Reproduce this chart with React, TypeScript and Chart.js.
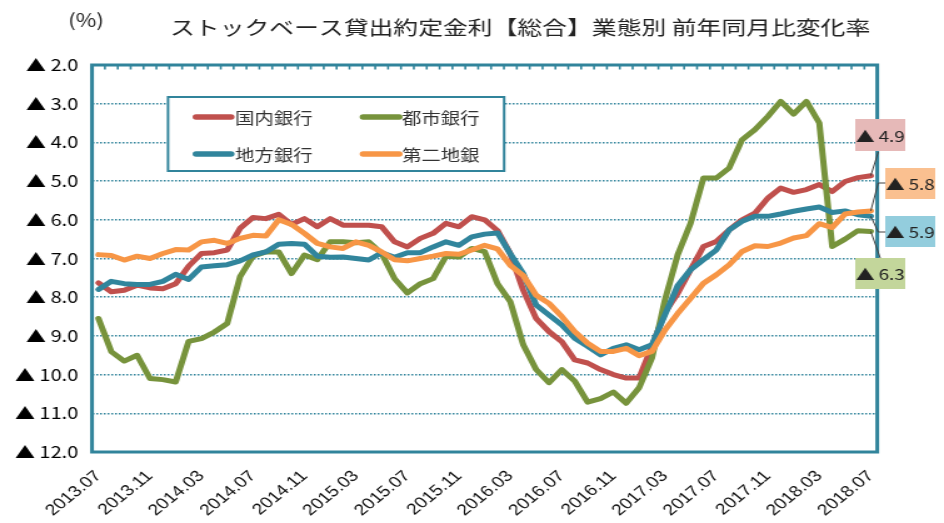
import React, { useEffect, useRef } from 'react';
import { Chart, registerables } from 'chart.js';

Chart.register(...registerables);

// ---------- data ----------
const months = [
  '2013.07', '2013.08', '2013.09', '2013.10', '2013.11', '2013.12',
  '2014.01', '2014.02', '2014.03', '2014.04', '2014.05', '2014.06', '2014.07', '2014.08', '2014.09', '2014.10', '2014.11', '2014.12',
  '2015.01', '2015.02', '2015.03', '2015.04', '2015.05', '2015.06', '2015.07', '2015.08', '2015.09', '2015.10', '2015.11', '2015.12',
  '2016.01', '2016.02', '2016.03', '2016.04', '2016.05', '2016.06', '2016.07', '2016.08', '2016.09', '2016.10', '2016.11', '2016.12',
  '2017.01', '2017.02', '2017.03', '2017.04', '2017.05', '2017.06', '2017.07', '2017.08', '2017.09', '2017.10', '2017.11', '2017.12',
  '2018.01', '2018.02', '2018.03', '2018.04', '2018.05', '2018.06', '2018.07',
];

const tickLabels = [
  '2013.07', '2013.11', '2014.03', '2014.07', '2014.11', '2015.03', '2015.07', '2015.11',
  '2016.03', '2016.07', '2016.11', '2017.03', '2017.07', '2017.11', '2018.03', '2018.07',
];

const seriesNames = ['国内銀行', '都市銀行', '地方銀行', '第二地銀'];

// 国内銀行
const kokunai = [
  -7.63, -7.86, -7.82, -7.69, -7.76, -7.78, -7.65, -7.2, -6.87, -6.85, -6.78, -6.22, -5.94, -5.97, -5.86, -6.12,
  -5.97, -6.18, -5.97, -6.14, -6.14, -6.14, -6.18, -6.57, -6.7, -6.48, -6.35, -6.09, -6.18, -5.92, -6.0,
  -6.28, -6.88, -7.82, -8.55, -8.89, -9.15, -9.62, -9.7, -9.87, -10.0, -10.09, -10.09, -9.27, -8.4, -7.9,
  -7.29, -6.69, -6.56, -6.26, -6.0, -5.83, -5.44, -5.18, -5.29, -5.22, -5.09, -5.27, -5.01, -4.91, -4.86,
];

// 都市銀行
const toshi = [
  -8.55, -9.41, -9.65, -9.5, -10.1, -10.13, -10.19, -9.14, -9.07, -8.9, -8.68, -7.47, -6.94, -6.83, -6.83, -7.39,
  -6.91, -7.03, -6.57, -6.57, -6.59, -6.57, -6.87, -7.52, -7.89, -7.65, -7.52, -6.94, -6.96, -6.74, -6.82,
  -7.65, -8.12, -9.23, -9.87, -10.21, -9.87, -10.17, -10.71, -10.62, -10.45, -10.74, -10.34, -9.57, -8.08, -6.9,
  -6.09, -4.92, -4.92, -4.66, -3.93, -3.67, -3.33, -2.94, -3.27, -2.94, -3.5, -6.69, -6.5, -6.28, -6.3,
];

// 地方銀行
const chiho = [
  -7.8, -7.59, -7.65, -7.67, -7.67, -7.59, -7.41, -7.54, -7.22, -7.19, -7.16, -7.06, -6.91, -6.83, -6.63, -6.61,
  -6.63, -6.94, -6.97, -6.96, -7.0, -7.04, -6.85, -6.97, -6.85, -6.85, -6.7, -6.57, -6.66, -6.44, -6.37,
  -6.34, -6.88, -7.39, -8.2, -8.46, -8.72, -9.06, -9.27, -9.49, -9.32, -9.23, -9.36, -9.23, -8.46, -7.7,
  -7.29, -7.03, -6.78, -6.26, -6.04, -5.91, -5.91, -5.85, -5.78, -5.72, -5.67, -5.81, -5.77, -5.87, -5.91,
];

// 第二地銀
const daini = [
  -6.9, -6.92, -7.04, -6.94, -7.0, -6.87, -6.77, -6.78, -6.57, -6.53, -6.61, -6.48, -6.4, -6.42, -6.0, -6.12,
  -6.35, -6.61, -6.7, -6.74, -6.57, -6.66, -6.83, -7.03, -7.06, -7.0, -6.94, -6.87, -6.89, -6.78, -6.66,
  -6.75, -7.18, -7.44, -7.95, -8.16, -8.5, -8.89, -9.19, -9.4, -9.4, -9.32, -9.51, -9.4, -8.85, -8.42,
  -8.03, -7.64, -7.42, -7.16, -6.82, -6.67, -6.69, -6.6, -6.47, -6.41, -6.1, -6.2, -5.85, -5.8, -5.77,
];

const seriesValues = [kokunai, toshi, chiho, daini];

// ---------- styles ----------
const lineColors = ['#C0504D', '#77933C', '#31859C', '#F79646'];
const boxColors = ['#E6B9B8', '#C3D69B', '#93CDDD', '#FAC090'];
const TEAL = '#31849B';
const STRETCH = 1.25; // canvas is drawn narrow and stretched horizontally
const CW = 755;
const CH = 523;
const X = (v: number) => v / STRETCH;
const NUM_FONT = "'Liberation Sans', 'DejaVu Sans', sans-serif";
const JP_FONT = "'Noto Sans CJK JP', sans-serif";

const titleText = 'ストックベース貸出約定金利【総合】業態別 前年同月比変化率';

// end-label boxes (ref px) and leader bends
const endBoxes = [
  { x: 855, y: 119, w: 50, h: 32, path: [[878, 152]] },
  { x: 855, y: 258, w: 50, h: 31, path: [[880, 258]] },
  { x: 885, y: 216, w: 50, h: 31, path: [[878, 232], [885, 232]] },
  { x: 885, y: 168, w: 50, h: 31, path: [[878, 183], [885, 183]] },
];

const decoPlugin = {
  id: 'deco',
  afterDatasetsDraw(chart: any) {
    const { ctx, chartArea: a, scales } = chart;
    const xs = scales.x;
    const ys = scales.y;
    ctx.save();
    // frame
    ctx.strokeStyle = TEAL;
    ctx.lineWidth = 3;
    ctx.strokeRect(a.left, a.top, a.right - a.left, a.bottom - a.top);
    // small tick marks along top edge
    const step = xs.getPixelForValue(1) - xs.getPixelForValue(0);
    ctx.lineWidth = 1.6;
    ctx.beginPath();
    for (let i = 0; i <= months.length; i++) {
      const px = xs.getPixelForValue(0) - step / 2 + i * step;
      ctx.moveTo(px, a.top);
      ctx.lineTo(px, a.top + 4.5);
    }
    ctx.stroke();

    // legend
    const lx = X(168), ly = 97, lw = X(504) - X(168), lh = 74;
    ctx.fillStyle = '#fff';
    ctx.fillRect(lx, ly, lw, lh);
    ctx.strokeStyle = TEAL;
    ctx.lineWidth = 2;
    ctx.strokeRect(lx, ly, lw, lh);
    const cols = [[X(196), X(231), X(235)], [X(363), X(399), X(402)]];
    const rows = [117, 154];
    const order = [0, 1, 2, 3];
    order.forEach((si, k) => {
      const c = cols[k % 2];
      const r = rows[Math.floor(k / 2)];
      ctx.strokeStyle = lineColors[si];
      ctx.lineWidth = 5.5;
      ctx.lineCap = 'round';
      ctx.beginPath();
      ctx.moveTo(c[0], r);
      ctx.lineTo(c[1], r);
      ctx.stroke();
      ctx.fillStyle = '#333';
      ctx.font = `15.5px ${JP_FONT}`;
      ctx.textAlign = 'left';
      ctx.textBaseline = 'middle';
      ctx.fillText(seriesNames[si], c[2], r + 1);
    });

    // end labels
    const last = months.length - 1;
    seriesValues.forEach((vals, si) => {
      const b = endBoxes[si];
      const px = xs.getPixelForValue(last);
      const py = ys.getPixelForValue(vals[last]);
      ctx.strokeStyle = '#404040';
      ctx.lineWidth = 1;
      ctx.lineCap = 'butt';
      ctx.beginPath();
      ctx.moveTo(px, py);
      b.path.forEach(([qx, qy]) => ctx.lineTo(X(qx), qy));
      ctx.stroke();
      ctx.fillStyle = boxColors[si];
      ctx.fillRect(X(b.x), b.y, X(b.w), b.h);
      ctx.fillStyle = '#222';
      ctx.font = `15px ${JP_FONT}`;
      ctx.textAlign = 'center';
      ctx.textBaseline = 'middle';
      ctx.fillText('▲ ' + (-vals[last]).toFixed(1), X(b.x + b.w / 2), b.y + b.h / 2 + 1);
    });

    // title
    ctx.fillStyle = '#222';
    ctx.font = `18px ${JP_FONT}`;
    ctx.textAlign = 'left';
    ctx.textBaseline = 'middle';
    ctx.fillText('(%)', X(68), 20);
    ctx.font = `19.5px ${JP_FONT}`;
    const tw = ctx.measureText(titleText).width;
    const target = X(870) - X(170);
    ctx.save();
    ctx.translate(X(170), 28);
    ctx.scale(target / tw, 1);
    ctx.fillText(titleText, 0, 0);
    ctx.restore();
    ctx.restore();
  },
};

export default function App() {
  const ref = useRef<HTMLCanvasElement>(null);
  useEffect(() => {
    if (!ref.current) return;
    const chart = new Chart(ref.current, {
      type: 'line',
      data: {
        labels: months,
        datasets: seriesValues.map((vals, i) => ({
          label: seriesNames[i],
          data: vals,
          borderColor: lineColors[i],
          backgroundColor: lineColors[i],
          borderWidth: 5,
          pointRadius: 0,
          tension: 0,
          borderJoinStyle: 'round' as const,
          borderCapStyle: 'round' as const,
          order: 4 - i,
        })),
      },
      options: {
        animation: false,
        responsive: false,
        devicePixelRatio: 1,
        layout: { padding: { left: 0, right: CW - X(877), top: 65, bottom: 0 } },
        plugins: { legend: { display: false }, tooltip: { enabled: false }, title: { display: false } },
        scales: {
          x: {
            type: 'category',
            offset: true,
            grid: { display: false, drawTicks: false },
            border: { display: false },
            ticks: {
              autoSkip: false,
              maxRotation: 45,
              minRotation: 45,
              padding: 15,
              color: '#111',
              font: { family: NUM_FONT, size: 15.5 },
              callback: (_v: any, idx: number) => (tickLabels.includes(months[idx]) ? months[idx] : ''),
            },
            afterFit: (s: any) => { s.height = CH - 452; },
          },
          y: {
            min: -12,
            max: -2,
            grid: {
              drawTicks: false,
              lineWidth: 1.5,
              color: (c: any) => (c.tick && (c.tick.value === -2 || c.tick.value === -12) ? 'rgba(0,0,0,0)' : TEAL),
            },
            border: { display: false, dash: [1.5, 1.5] },
            ticks: {
              stepSize: 1,
              padding: 11,
              color: '#000',
              font: { family: JP_FONT, size: 16 },
              callback: (v: any) => '▲ ' + (-Number(v)).toFixed(1),
            },
            afterFit: (s: any) => { s.width = X(92); },
          },
        },
      },
      plugins: [decoPlugin],
    });
    return () => chart.destroy();
  }, []);
  return (
    <div style={{ position: 'fixed', left: 0, top: 0, width: 944, height: 523, background: '#fff' }}>
      <canvas ref={ref} width={CW} height={CH} style={{ width: '944px', height: '523px', display: 'block' }} />
    </div>
  );
}
